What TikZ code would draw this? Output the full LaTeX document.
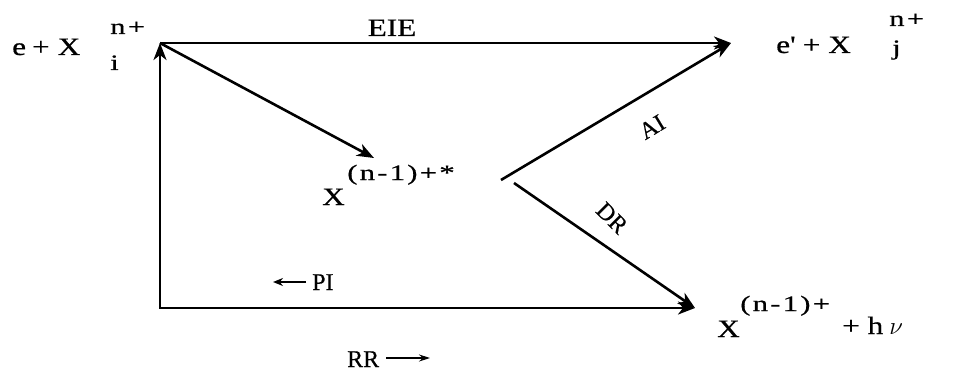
\documentclass[tikz,border=0pt]{standalone}
\usepackage{fontspec}
\setmainfont{Liberation Serif}
\newfontfamily\widefont[FakeStretch=1.25,FakeBold=0.6]{Liberation Serif}
\newfontfamily\supfont[FakeStretch=1.4,LetterSpace=10,FakeBold=0.6]{Liberation Serif}
\newfontfamily\labfont[FakeBold=0.4]{Liberation Serif}
\usetikzlibrary{arrows.meta}
\begin{document}
\begin{tikzpicture}[x=1pt,y=-1pt,
  conn/.style={line width=2.6pt,-{Stealth[length=17pt,width=13pt,inset=5pt]}},
  big/.style={font=\widefont\fontsize{25}{27}\selectfont,inner sep=0pt},
  small/.style={font=\supfont\fontsize{22}{24}\selectfont,inner sep=0pt},
  plain/.style={font=\labfont\fontsize{24}{26}\selectfont,inner sep=0pt}]
\useasboundingbox[fill=white] (0,0) rectangle (976,385);
% junction points
\coordinate (tl) at (160,43);
\coordinate (bl) at (160,308);
\coordinate (tr) at (731,43);
\coordinate (ex) at (374,158);
\coordinate (va) at (501,180);
\coordinate (vd) at (514,183);
\coordinate (br) at (695,308);
% connectors
\draw[conn,line cap=rect] (bl) -- (tl);
\draw[conn] (bl) -- (br);
\draw[conn] (tl) -- (tr);
\draw[conn] (tl) -- (ex);
\draw[conn] (va) -- (tr);
\draw[conn] (vd) -- (br);
% left species
\node[big,anchor=base west] (le) at (12,55) {e\hspace{6pt}+\hspace{8pt}X};
\node[small,anchor=base west] (lsup) at (110,34) {n+};
\node[small,anchor=base west] (lsub) at (110,70) {i};
% right species
\node[big,anchor=base west] (re) at (776,53) {e'\hspace{7pt}+\hspace{8pt}X};
\node[small,anchor=base west] (rsup) at (889,26) {n+};
\node[small,anchor=base west] (rsub) at (892,55) {j};
% excited intermediate
\node[big,anchor=base west] (mx) at (322,205) {X};
\node[small,anchor=base west] (msup) at (347,180) {(n-1)+*};
% products
\node[big,anchor=base west] (px) at (717,337) {X};
\node[small,anchor=base west] (psup) at (740,311) {(n-1)+};
\node[big,anchor=base west] (phv) at (842,334) {+ h\hspace{6pt}$\nu$};
% process labels
\node[big,anchor=base] (eie) at (392,36) {EIE};
\node[plain,rotate=31] (ai) at (652,127) {AI};
\node[plain,rotate=-45] (dr) at (612,218) {DR};
\node[plain,anchor=base west] (pi) at (312,290) {PI};
\coordinate (pia) at (306,282);
\coordinate (pib) at (273,282);
\draw[line width=1.8pt,-{Stealth[length=10pt,width=8pt]}] (pia) -- (pib);
\node[plain,anchor=base west] (rr) at (347,367) {RR};
\coordinate (rra) at (386,358);
\coordinate (rrb) at (430,358);
\draw[line width=1.2pt,-{Stealth[length=11pt,width=7pt]}] (rra) -- (rrb);
\end{tikzpicture}
\end{document}
